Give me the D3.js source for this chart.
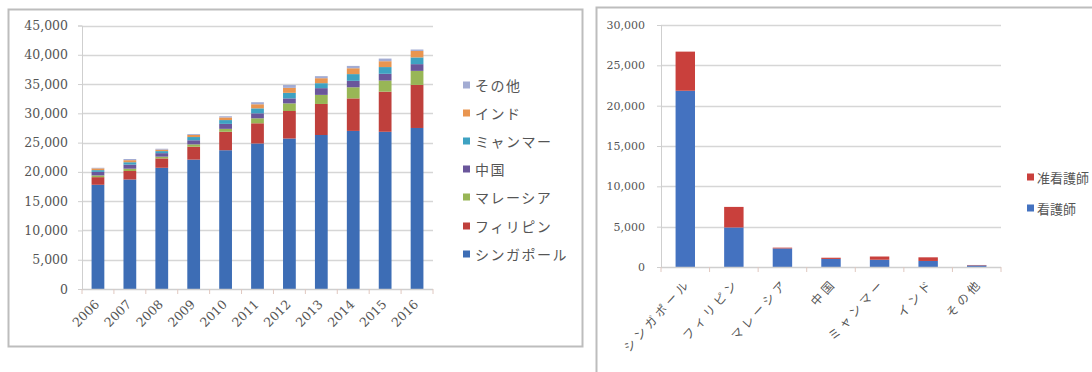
<!DOCTYPE html>
<html>
<head>
<meta charset="utf-8">
<script src="https://cdn.jsdelivr.net/npm/d3@7"></script>
<style>
  body { margin: 0; background: #fff; }
  svg text { fill: #555; }
</style>
</head>
<body>
<div id="chart"></div>
<script>
// left chart: nurses by nationality, 2006-2016
const years = ["2006", "2007", "2008", "2009", "2010", "2011", "2012", "2013", "2014", "2015", "2016"];
const singapore   = [17800, 18700, 20700, 22100, 23700, 24850, 25700, 26300, 27000, 26850, 27500];
const philippines = [1300, 1450, 1600, 2200, 3150, 3450, 4700, 5300, 5550, 6850, 7350];
const malaysia    = [300, 400, 300, 400, 500, 850, 1300, 1550, 1900, 1900, 2400];
const china       = [600, 700, 600, 700, 850, 850, 850, 1150, 1100, 1150, 1150];
const myanmar     = [300, 400, 350, 550, 650, 850, 950, 850, 1150, 1150, 1150];
const india       = [300, 350, 250, 350, 450, 700, 850, 850, 1000, 1000, 1100];
const others      = [100, 200, 150, 150, 200, 350, 500, 350, 400, 450, 250];
const seriesNames = ["シンガポール", "フィリピン", "マレーシア", "中国", "ミャンマー", "インド", "その他"];
const leftTicks = [0, 5000, 10000, 15000, 20000, 25000, 30000, 35000, 40000, 45000];

// right chart: 2016 by nationality, registered / enrolled nurses
const nations = ["シンガポール", "フィリピン", "マレーシア", "中国", "ミャンマー", "インド", "その他"];
const registered = [21850, 4900, 2300, 1000, 900, 750, 200];
const enrolled   = [4850, 2550, 100, 150, 400, 450, 50];
const rightKeys = ["看護師", "准看護師"];
const rightTicks = [0, 5000, 10000, 15000, 20000, 25000, 30000];

const leftColors = ["#3d6db5", "#bf403c", "#98b656", "#6a569b", "#3ea2c2", "#e99550", "#a3acd3"];
const rightColors = ["#4472c0", "#c9403c"];

const svg = d3.select("#chart").append("svg")
    .attr("width", 1092)
    .attr("height", 372);

const numFmt = d3.format(",");
const serif = "'DejaVu Serif', serif";
const jp = "'Noto Sans CJK JP', sans-serif";

// frames
svg.append("rect")
    .attr("x", 8.5).attr("y", 9.5)
    .attr("width", 574).attr("height", 337)
    .attr("fill", "none").attr("stroke", "#bdbdbd").attr("stroke-width", 2);
svg.append("rect")
    .attr("x", 596.5).attr("y", 7.5)
    .attr("width", 520).attr("height", 400)
    .attr("fill", "none").attr("stroke", "#bdbdbd").attr("stroke-width", 2);

function drawPanel(cfg) {
    const g = svg.append("g");
    const x = d3.scaleBand()
        .domain(cfg.cats)
        .range(cfg.xRange)
        .paddingInner(0.6)
        .paddingOuter(0.3);
    const y = d3.scaleLinear()
        .domain([0, cfg.max])
        .range(cfg.yRange);

    // gridlines
    g.append("g")
        .selectAll("line")
        .data(cfg.ticks.filter(t => t > 0))
        .join("line")
            .attr("x1", cfg.xRange[0])
            .attr("x2", cfg.xRange[1])
            .attr("y1", d => Math.round(y(d)) + 0.5)
            .attr("y2", d => Math.round(y(d)) + 0.5)
            .attr("stroke", "#d6d6d6")
            .attr("stroke-width", 1.5);

    // y axis
    const yAxis = g.append("g")
        .attr("transform", `translate(${cfg.xRange[0]},0)`)
        .call(d3.axisLeft(y).tickValues(cfg.ticks).tickFormat(numFmt).tickSize(4).tickPadding(cfg.yPad));
    yAxis.select(".domain").attr("stroke", "#cfcfcf");
    yAxis.selectAll(".tick line").attr("stroke", "#cfcfcf");
    yAxis.selectAll("text")
        .attr("font-family", serif)
        .attr("font-size", cfg.yFont)
        .attr("fill", "#505050");

    // stacked bars
    const stacked = d3.stack().keys(d3.range(cfg.series.length))
        .value((row, k) => cfg.series[k][row])(d3.range(cfg.cats.length));
    g.append("g")
        .selectAll("g")
        .data(stacked)
        .join("g")
            .attr("fill", (d, i) => cfg.colors[i])
        .selectAll("rect")
        .data(d => d)
        .join("rect")
            .attr("x", (d, i) => x(cfg.cats[i]))
            .attr("y", d => y(d[1]))
            .attr("width", x.bandwidth())
            .attr("height", d => y(d[0]) - y(d[1]));

    // x axis baseline with ticks between categories
    const base = y(0);
    g.append("line")
        .attr("x1", cfg.xRange[0]).attr("x2", cfg.xRange[1])
        .attr("y1", base + 0.5).attr("y2", base + 0.5)
        .attr("stroke", "#cfcfcf").attr("stroke-width", 1.5);
    const step = x.step();
    g.append("g")
        .selectAll("line")
        .data(d3.range(cfg.cats.length + 1))
        .join("line")
            .attr("x1", i => cfg.xRange[0] + i * step)
            .attr("x2", i => cfg.xRange[0] + i * step)
            .attr("y1", base).attr("y2", base + 5)
            .attr("stroke", "#e0c8c0");

    // rotated category labels
    g.append("g")
        .selectAll("text")
        .data(cfg.cats)
        .join("text")
            .attr("transform", d => `translate(${x(d) + x.bandwidth() / 2 + cfg.lblDx},${base + cfg.lblDy}) rotate(${cfg.angle})`)
            .attr("text-anchor", "end")
            .attr("dominant-baseline", "central")
            .attr("font-family", cfg.lblFamily)
            .attr("font-size", cfg.lblFont)
            .attr("letter-spacing", cfg.lblSpacing)
            .text(d => d);

    // legend
    const lg = g.append("g")
        .selectAll("g")
        .data(cfg.legend)
        .join("g")
            .attr("transform", d => `translate(${cfg.legendX},${d.y})`);
    lg.append("rect")
        .attr("x", 0).attr("y", -3.5)
        .attr("width", 7).attr("height", 7)
        .attr("fill", d => d.color);
    lg.append("text")
        .attr("x", cfg.legendTextDx)
        .attr("dominant-baseline", "central")
        .attr("font-family", jp)
        .attr("font-size", cfg.legendFont)
        .attr("letter-spacing", cfg.legendSpacing)
        .text(d => d.name);
}

drawPanel({
    cats: years,
    series: [singapore, philippines, malaysia, china, myanmar, india, others],
    colors: leftColors,
    xRange: [82, 433],
    yRange: [289, 25.5],
    max: 45000,
    ticks: leftTicks,
    yPad: 10,
    yFont: "12.5px",
    lblDx: -1,
    lblDy: 13,
    angle: -45,
    lblFamily: serif,
    lblFont: "12.5px",
    lblSpacing: "0px",
    legendX: 463,
    legendTextDx: 12,
    legendFont: "14px",
    legendSpacing: "1.5px",
    legend: [
        { name: seriesNames[6], color: leftColors[6], y: 85 },
        { name: seriesNames[5], color: leftColors[5], y: 113 },
        { name: seriesNames[4], color: leftColors[4], y: 141 },
        { name: seriesNames[3], color: leftColors[3], y: 169 },
        { name: seriesNames[2], color: leftColors[2], y: 197 },
        { name: seriesNames[1], color: leftColors[1], y: 226 },
        { name: seriesNames[0], color: leftColors[0], y: 254 }
    ]
});

drawPanel({
    cats: nations,
    series: [registered, enrolled],
    colors: rightColors,
    xRange: [661, 1001],
    yRange: [267, 25],
    max: 30000,
    ticks: rightTicks,
    yPad: 12,
    yFont: "11px",
    lblDx: 2,
    lblDy: 13,
    angle: -48,
    lblFamily: jp,
    lblFont: "12px",
    lblSpacing: "3.5px",
    legendX: 1027,
    legendTextDx: 10,
    legendFont: "13px",
    legendSpacing: "0px",
    legend: [
        { name: rightKeys[1], color: rightColors[1], y: 177 },
        { name: rightKeys[0], color: rightColors[0], y: 208 }
    ]
});
</script>
</body>
</html>
